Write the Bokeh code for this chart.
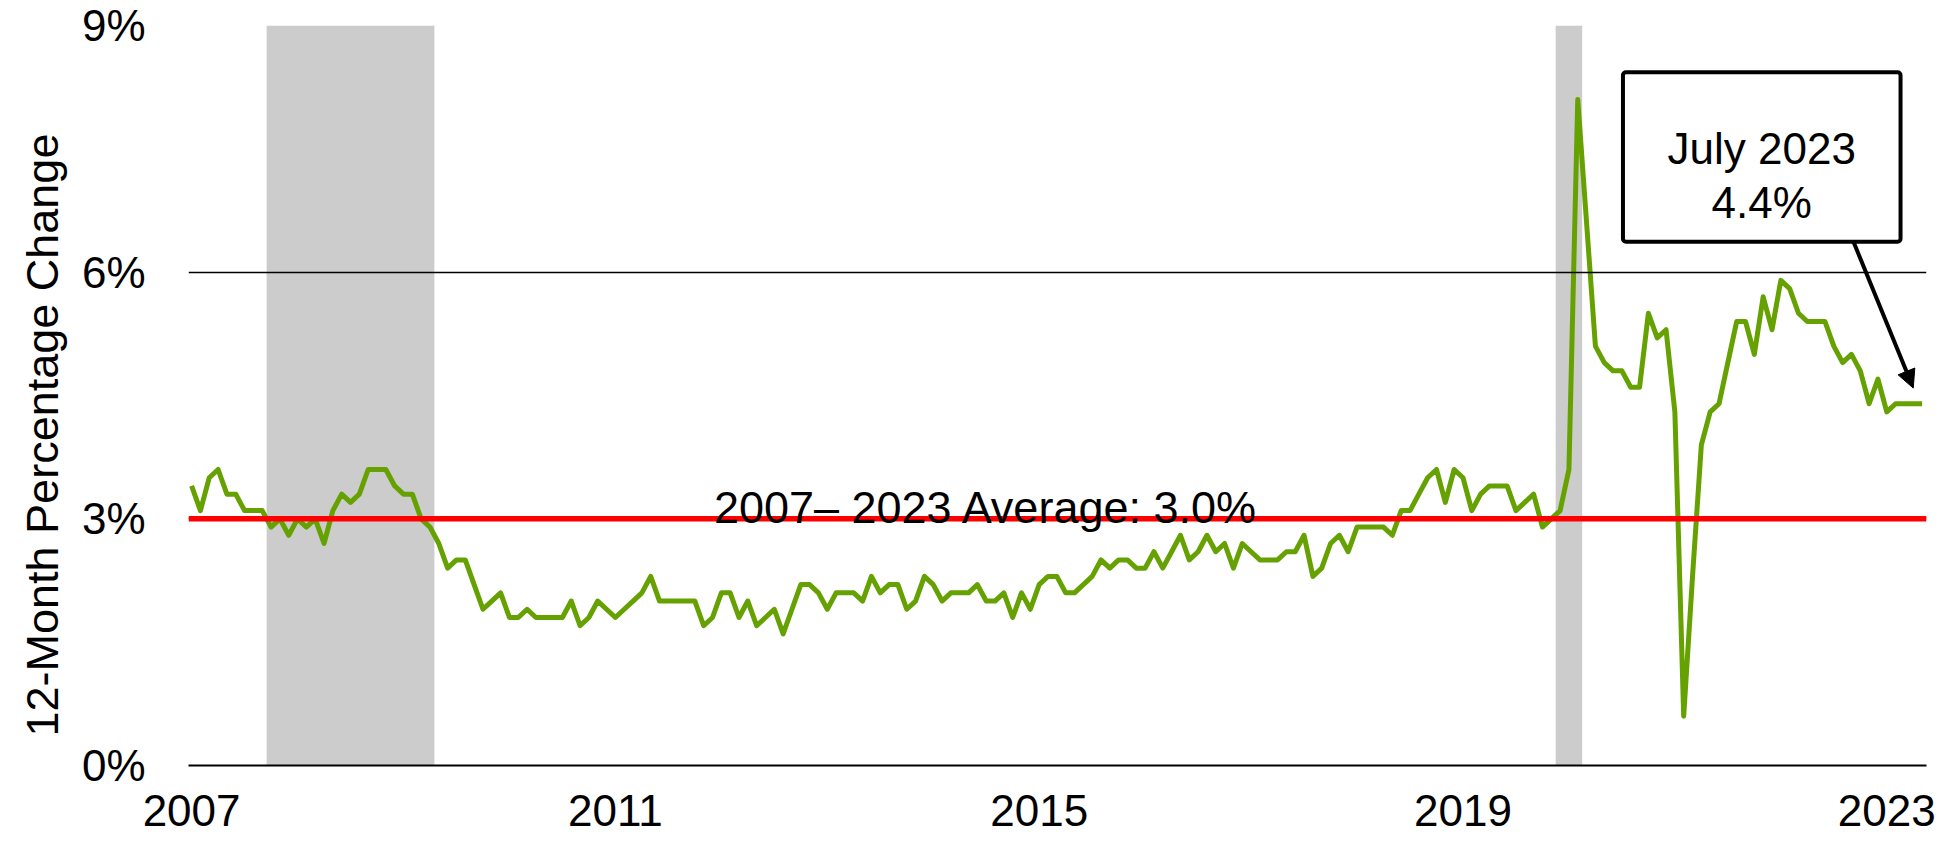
from bokeh.plotting import figure
from bokeh.models import (Range1d, FixedTicker, Span, Label, BoxAnnotation,
                          Arrow, NormalHead, ColumnDataSource, Title)
from bokeh.embed import file_html
from bokeh.resources import INLINE

# ---------------- data ----------------
# 12-month percentage change, monthly, March 2007 .. July 2023
wages = [
    3.4, 3.1, 3.5, 3.6, 3.3, 3.3, 3.1, 3.1, 3.1, 2.9, 3.0, 2.8, 3.0, 2.9, 3.0, 2.7,
    3.1, 3.3, 3.2, 3.3, 3.6, 3.6, 3.6, 3.4, 3.3, 3.3, 3.0, 2.9, 2.7, 2.4, 2.5, 2.5,
    2.2, 1.9, 2.0, 2.1, 1.8, 1.8, 1.9, 1.8, 1.8, 1.8, 1.8, 2.0, 1.7,
    1.8, 2.0, 1.9, 1.8, 1.9, 2.0, 2.1, 2.3, 2.0, 2.0, 2.0, 2.0, 2.0, 1.7, 1.8, 2.1,
    2.1, 1.8, 2.0, 1.7, 1.8, 1.9, 1.6, 1.9, 2.2, 2.2, 2.1, 1.9, 2.1, 2.1, 2.1, 2.0,
    2.3, 2.1, 2.2, 2.2, 1.9, 2.0, 2.3, 2.2, 2.0, 2.1, 2.1, 2.1, 2.2, 2.0, 2.0, 2.1,
    1.8, 2.1, 1.9, 2.2, 2.3, 2.3, 2.1, 2.1, 2.2, 2.3, 2.5, 2.4, 2.5, 2.5, 2.4, 2.4,
    2.6, 2.4, 2.6, 2.8, 2.5, 2.6, 2.8, 2.6, 2.7, 2.4, 2.7, 2.6, 2.5, 2.5, 2.5, 2.6,
    2.6, 2.8, 2.3, 2.4, 2.7, 2.8, 2.6, 2.9, 2.9, 2.9, 2.9, 2.8, 3.1, 3.1, 3.3, 3.5,
    3.6,
    3.2, 3.6, 3.5, 3.1, 3.3, 3.4, 3.4, 3.4, 3.1, 3.2, 3.3, 2.9, 3.0, 3.1, 3.6, 8.1,
    6.6, 5.1, 4.9, 4.8, 4.8, 4.6, 4.6, 5.5, 5.2, 5.3, 4.3, 0.6,
    2.3, 3.9, 4.3, 4.4, 4.9, 5.4, 5.4, 5.0, 5.7, 5.3, 5.9, 5.8, 5.5, 5.4, 5.4, 5.4,
    5.1, 4.9, 5.0, 4.8, 4.4, 4.7, 4.3, 4.4, 4.4, 4.4, 4.4,
]
# recessions as month indices (0 = March 2007): Dec 2007-Jun 2009, Feb 2020-Apr 2020
recession_start = [9, 155]
recession_end = [27, 157]

x_tick_positions = [0, 48, 96, 144, 192]
x_tick_labels = ["2007", "2011", "2015", "2019", "2023"]
y_ticks = [0, 3, 6, 9]
y_tick_labels = ["0%", "3%", "6%", "9%"]

average_value = 3.0
average_text = "2007\u2013 2023 Average: 3.0%"
callout_title = "July 2023"
callout_value = "4.4%"
y_title = "12-Month Percentage Change"

# ---------------- figure ----------------
FONT = "Liberation Sans"
months = list(range(len(wages)))
n = len(wages)

p = figure(width=1960, height=843,
           x_range=Range1d(-0.35, n - 1 + 0.5), y_range=Range1d(y_ticks[0], y_ticks[-1]),
           output_backend="svg", toolbar_location=None,
           min_border_left=188, min_border_right=34, min_border_top=25, min_border_bottom=78)
p.outline_line_color = None
p.background_fill_color = "white"
p.border_fill_color = "white"

# recession shading
rec = ColumnDataSource(dict(left=[s - 0.5 for s in recession_start],
                            right=[e + 0.5 for e in recession_end],
                            bottom=[y_ticks[0]] * len(recession_start),
                            top=[y_ticks[-1]] * len(recession_start)))
p.quad(left="left", right="right", bottom="bottom", top="top", source=rec,
       fill_color="#CCCCCC", line_color=None, level="underlay")

# axes
p.xaxis.ticker = FixedTicker(ticks=x_tick_positions)
p.xaxis.major_label_overrides = {k: v for k, v in zip(x_tick_positions, x_tick_labels)}
p.yaxis.ticker = FixedTicker(ticks=y_ticks)
p.yaxis.major_label_overrides = {k: v for k, v in zip(y_ticks, y_tick_labels)}
for ax in (p.xaxis, p.yaxis):
    ax.major_tick_line_color = None
    ax.minor_tick_line_color = None
    ax.major_tick_out = 0
    ax.major_tick_in = 0
    ax.major_label_text_font = FONT
    ax.major_label_text_font_size = "44px"
    ax.major_label_text_color = "black"
p.xaxis.axis_line_color = "black"
p.xaxis.axis_line_width = 2
p.xaxis.major_label_standoff = 29
p.yaxis.axis_line_color = None
p.yaxis.major_label_standoff = 43

p.xgrid.visible = False
p.ygrid.ticker = FixedTicker(ticks=y_ticks)
p.ygrid.grid_line_color = "black"
p.ygrid.grid_line_width = 1.3
p.ygrid.level = "glyph"

# y-axis title (left of the tick labels, starting a little above the frame bottom)
p.add_layout(Title(text=y_title, align="left", offset=29, standoff=21,
                   text_font=FONT, text_font_size="45px", text_font_style="normal",
                   text_color="black"), "left")

# series
p.line(months, wages, line_color="#66A102", line_width=5, line_join="round")

# average line and label
p.add_layout(Span(location=average_value, dimension="width",
                  line_color="#FF0000", line_width=5.5))
p.add_layout(Label(x=90.0, y=average_value + 0.14, text=average_text,
                   text_align="center", text_baseline="alphabetic",
                   text_font=FONT, text_font_size="45px", text_color="black"))

# callout box with arrow
p.add_layout(BoxAnnotation(left=162.12, right=193.56, bottom=6.37, top=8.43,
                           fill_color="white", fill_alpha=1.0,
                           line_color="black", line_alpha=1.0, line_width=4,
                           border_radius=3))
box_cx = (162.12 + 193.56) / 2
p.add_layout(Label(x=box_cx, y=7.50, text=callout_title, text_align="center",
                   text_baseline="alphabetic", text_font=FONT,
                   text_font_size="44px", text_color="black"))
p.add_layout(Label(x=box_cx, y=6.85, text=callout_value, text_align="center",
                   text_baseline="alphabetic", text_font=FONT,
                   text_font_size="44px", text_color="black"))
p.add_layout(Arrow(end=NormalHead(size=18, fill_color="black", line_color="black"),
                   x_start=188.23, y_start=6.37,
                   x_end=months[-1] - 1.0, y_end=wages[-1] + 0.19,
                   line_color="black", line_width=4))

open("out.html", "w").write(file_html(p, INLINE))
